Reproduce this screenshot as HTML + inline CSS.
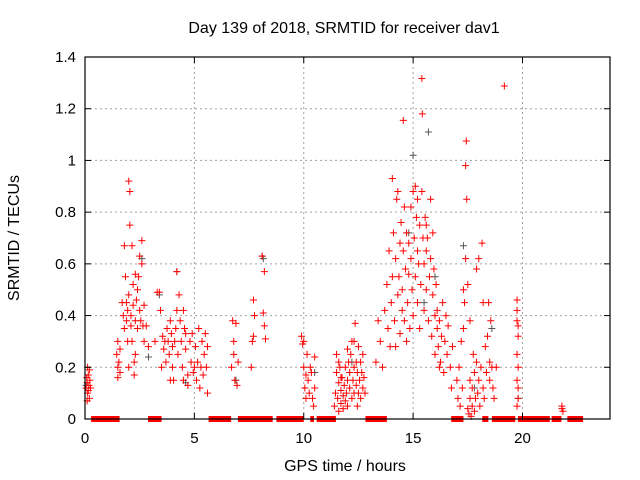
<!DOCTYPE html>
<html><head><meta charset="utf-8"><style>
html,body{margin:0;padding:0;background:#fff;width:640px;height:480px;overflow:hidden}
svg{display:block;font-family:"Liberation Sans",sans-serif}
</style></head><body>
<svg id="chart" width="640" height="480" viewBox="0 0 640 480" xmlns="http://www.w3.org/2000/svg">
<rect width="640" height="480" fill="#fff"/>
<text x="344" y="33" font-size="16" text-anchor="middle" fill="#000">Day 139 of 2018, SRMTID for receiver dav1</text>
<text x="345" y="471" font-size="16" text-anchor="middle" fill="#000">GPS time / hours</text>
<text x="0" y="0" font-size="16" text-anchor="middle" fill="#000" transform="translate(19,238) rotate(-90)">SRMTID / TECUs</text>
<g id="grid"></g>
<g id="gaps"></g>
<g id="greyPts"></g>
<g id="redPts"></g>
<g id="axes"></g>
</svg>
<script>
const xTicks=[0,5,10,15,20];
const yTicks=[0,0.2,0.4,0.6,0.8,1,1.2,1.4];
const yTickLabels=["0","0.2","0.4","0.6","0.8","1","1.2","1.4"];
const gapStarts=[0.28,2.88,5.65,6.99,8.75,10.3,10.59,12.82,16.74,18.16,18.6,19.79,21.33,22.05];
const gapEnds=[1.58,3.5,6.68,8.58,10.0,10.47,11.47,13.8,17.3,18.44,19.67,21.25,21.78,22.77];
const redPoints=[[0.05,0.12],[0.1,0.14],[0.12,0.1],[0.15,0.17],[0.18,0.13],[0.2,0.08],[0.22,0.15],[0.12,0.2],[0.25,0.12],[0.08,0.16],[0.15,0.11],[0.2,0.19],[0.1,0.07],
[1.45,0.25],[1.5,0.2],[1.5,0.16],[1.55,0.22],[1.6,0.18],[1.6,0.27],[1.5,0.3],[1.7,0.45],[1.75,0.4],[1.8,0.35],[1.8,0.67],[1.85,0.55],[1.9,0.45],[1.9,0.38],[1.95,0.42],[2.0,0.92],[2.05,0.88],[2.05,0.75],[2.0,0.48],[2.1,0.4],[2.1,0.36],[2.15,0.67],[2.15,0.3],[2.2,0.52],[2.2,0.44],[2.25,0.17],[2.25,0.22],[2.3,0.56],[2.3,0.38],[2.35,0.46],[2.4,0.35],[2.4,0.5],[2.45,0.55],[2.5,0.42],[2.5,0.63],[2.55,0.38],[2.6,0.69],[2.6,0.6],[2.65,0.36],[2.7,0.44],[2.7,0.3],[2.8,0.36],[2.9,0.28],[2.0,0.2],[1.95,0.3],[2.3,0.25],
[3.2,0.3],[3.3,0.49],[3.4,0.49],[3.45,0.42],[3.5,0.2],[3.6,0.27],[3.65,0.3],[3.7,0.22],[3.75,0.35],[3.8,0.3],[3.85,0.25],[3.9,0.38],[3.95,0.33],[4.0,0.28],[4.0,0.2],[4.05,0.15],[4.1,0.3],[4.15,0.35],[4.2,0.57],[4.2,0.42],[4.25,0.25],[4.3,0.48],[4.35,0.38],[4.4,0.3],[4.45,0.2],[4.5,0.42],[4.5,0.15],[4.55,0.35],[4.6,0.27],[4.7,0.17],[4.7,0.13],[4.8,0.3],[4.85,0.22],[4.9,0.33],[4.95,0.18],[5.0,0.2],[5.05,0.28],[5.1,0.15],[5.15,0.22],[5.2,0.35],[5.25,0.12],[5.3,0.2],[5.35,0.3],[5.4,0.17],[5.45,0.25],[5.5,0.33],[5.55,0.2],[5.6,0.1],[5.6,0.28],[3.55,0.32],[3.9,0.15],[4.6,0.33],
[6.7,0.2],[6.75,0.38],[6.8,0.25],[6.85,0.15],[6.9,0.37],[6.95,0.13],[6.8,0.3],[7.0,0.22],
[7.6,0.2],[7.65,0.3],[7.7,0.46],[7.75,0.4],[7.7,0.32],[8.1,0.63],[8.2,0.57],[8.2,0.36],[8.25,0.31],[8.15,0.41],
[9.9,0.32],[9.95,0.29],[10.0,0.3],[10.0,0.2],[10.05,0.12],[10.1,0.17],[10.1,0.08],[10.15,0.25],[10.2,0.15],[10.25,0.1],[10.3,0.2],[10.35,0.18],[10.4,0.08],[10.45,0.05],[10.5,0.12],[10.5,0.24],
[11.4,0.05],[11.45,0.1],[11.5,0.18],[11.5,0.25],[11.55,0.08],[11.6,0.14],[11.6,0.03],[11.65,0.2],[11.7,0.06],[11.7,0.11],[11.75,0.16],[11.8,0.04],[11.8,0.09],[11.85,0.13],[11.9,0.07],[11.9,0.2],[11.95,0.1],[12.0,0.05],[12.0,0.15],[12.05,0.22],[12.1,0.12],[12.1,0.18],[12.15,0.25],[12.2,0.08],[12.2,0.3],[12.25,0.15],[12.3,0.2],[12.3,0.1],[12.35,0.37],[12.4,0.22],[12.4,0.13],[12.45,0.18],[12.5,0.28],[12.5,0.1],[12.55,0.15],[12.6,0.22],[12.6,0.08],[12.65,0.18],[12.7,0.12],[12.7,0.25],[12.75,0.16],[12.8,0.1],[11.6,0.22],[12.0,0.27],[12.3,0.3],[11.7,0.16],[12.45,0.05],
[13.3,0.22],[13.4,0.38],[13.5,0.3],[13.6,0.2],[13.7,0.42],[13.8,0.52],[13.85,0.35],[13.9,0.65],[13.95,0.28],[14.0,0.45],[14.05,0.93],[14.05,0.55],[14.1,0.72],[14.15,0.38],[14.2,0.62],[14.2,0.28],[14.25,0.85],[14.3,0.48],[14.35,0.55],[14.4,0.68],[14.4,0.33],[14.45,0.76],[14.5,0.5],[14.5,0.42],[14.55,1.155],[14.55,0.65],[14.6,0.82],[14.6,0.38],[14.65,0.58],[14.7,0.72],[14.7,0.3],[14.75,0.45],[14.8,0.68],[14.8,0.56],[14.85,0.35],[14.9,0.82],[14.9,0.62],[14.95,0.5],[15.0,0.88],[15.0,0.4],[15.05,0.7],[15.1,0.9],[15.1,0.55],[15.15,0.78],[15.2,0.45],[15.2,0.65],[15.25,0.6],[15.3,0.75],[15.3,0.35],[15.35,0.52],[15.4,1.317],[15.42,1.18],[15.4,0.88],[15.45,0.7],[15.5,0.6],[15.5,0.42],[15.55,0.78],[15.6,0.5],[15.6,0.65],[15.65,0.7],[15.7,0.38],[15.75,0.55],[15.8,0.85],[15.8,0.62],[15.85,0.32],[15.9,0.48],[15.9,0.72],[15.95,0.58],[16.0,0.4],[16.0,0.25],[16.05,0.52],[16.1,0.35],[16.1,0.42],[16.15,0.28],[16.2,0.38],[16.25,0.22],[16.3,0.32],[16.35,0.45],[16.4,0.18],[16.45,0.3],[16.5,0.4],[16.55,0.25],[16.6,0.36],[16.7,0.2],[16.75,0.12],[16.8,0.28],[15.2,0.85],[14.3,0.88],[15.6,0.75],[16.2,0.2],
[17.0,0.15],[17.05,0.08],[17.1,0.2],[17.15,0.05],[17.2,0.3],[17.25,0.12],[17.3,0.5],[17.35,0.45],[17.4,0.98],[17.43,1.075],[17.4,0.62],[17.45,0.85],[17.5,0.52],[17.5,0.04],[17.55,0.02],[17.6,0.08],[17.6,0.15],[17.65,0.01],[17.7,0.05],[17.7,0.12],[17.75,0.25],[17.8,0.03],[17.8,0.18],[17.85,0.08],[17.9,0.22],[17.9,0.58],[17.95,0.1],[18.0,0.62],[18.0,0.15],[18.05,0.05],[18.1,0.2],[18.15,0.68],[18.2,0.45],[18.2,0.12],[18.25,0.08],[18.3,0.28],[18.35,0.18],[18.4,0.32],[18.45,0.45],[18.5,0.15],[18.5,0.22],[18.55,0.38],[18.6,0.2],[18.65,0.12],[18.7,0.08],[18.8,0.2],[17.3,0.35],[17.6,0.38],
[19.75,0.46],[19.75,0.42],[19.75,0.38],[19.8,0.36],[19.8,0.32],[19.75,0.25],[19.8,0.2],[19.75,0.15],[19.8,0.12],[19.75,0.05],[19.8,0.08],[19.17,1.288],
[21.8,0.04],[21.85,0.03],[21.8,0.05]];
const greyPoints=[[0.05,0.13],[2.6,0.62],[2.9,0.24],[3.4,0.48],[4.2,0.57],[8.1,0.63],[8.15,0.62],[10.5,0.18],[15.0,1.02],[15.7,1.11],[14.8,0.72],[15.5,0.45],[16.0,0.55],[17.3,0.67],[18.6,0.35],[12.2,0.22],[17.8,0.12],[4.6,0.14],[6.9,0.15],[19.8,0.08]];

const L=85,R=610,T=57,B=419,XMAX=24,YMAX=1.4;
function xs(t){return L+(R-L)*t/XMAX;}
function ys(v){return B-(B-T)*v/YMAX;}
const NS="http://www.w3.org/2000/svg";
function mk(tag,attrs,parent){const e=document.createElementNS(NS,tag);for(const k in attrs)e.setAttribute(k,attrs[k]);parent.appendChild(e);return e;}
const grid=document.getElementById('grid'),axes=document.getElementById('axes');
xTicks.forEach(t=>{
  const x=xs(t);
  if(t>0){const g=mk('line',{x1:x,y1:T,x2:x,y2:B,stroke:'#a0a0a0','stroke-dasharray':'2,3','stroke-width':1},grid);
  
  }
  mk('line',{x1:x,y1:B,x2:x,y2:B-6,stroke:'#000'},axes);
  mk('line',{x1:x,y1:T,x2:x,y2:T+6,stroke:'#000'},axes);
  const lb=mk('text',{x:x,y:B+24,'font-size':15,'text-anchor':'middle'},axes);lb.textContent=t;
  
  
});
yTicks.forEach((v,i)=>{
  const y=ys(v);
  if(v>0&&v<YMAX){const g=mk('line',{x1:L,y1:y,x2:R,y2:y,stroke:'#a0a0a0','stroke-dasharray':'2,3','stroke-width':1},grid);
  
  }
  mk('line',{x1:L,y1:y,x2:L+6,y2:y,stroke:'#000'},axes);
  mk('line',{x1:R,y1:y,x2:R-6,y2:y,stroke:'#000'},axes);
  const lb=mk('text',{x:L-9,y:y+5,'font-size':15,'text-anchor':'end'},axes);lb.textContent=yTickLabels[i];
  
  
});
const frame=mk('rect',{x:L,y:T,width:R-L,height:B-T,fill:'none',stroke:'#000','stroke-width':1.2},axes);


const gaps=document.getElementById('gaps');
gapStarts.forEach((s,i)=>{
  const r=mk('rect',{x:xs(s),y:B-3,width:xs(gapEnds[i])-xs(s),height:6,fill:'#ff0000'},gaps);
  
  
});
function plus(p,color,parent){
  const x=xs(p[0]),y=ys(p[1]);
  const e=mk('path',{d:`M${x-3.5},${y}H${x+3.5}M${x},${y-3.5}V${y+3.5}`,stroke:color,'stroke-width':1,fill:'none'},parent);
  
  
}
greyPoints.forEach(p=>plus(p,'#555',document.getElementById('greyPts')));
redPoints.forEach(p=>plus(p,'#ff0000',document.getElementById('redPts')));
</script>
</body></html>
